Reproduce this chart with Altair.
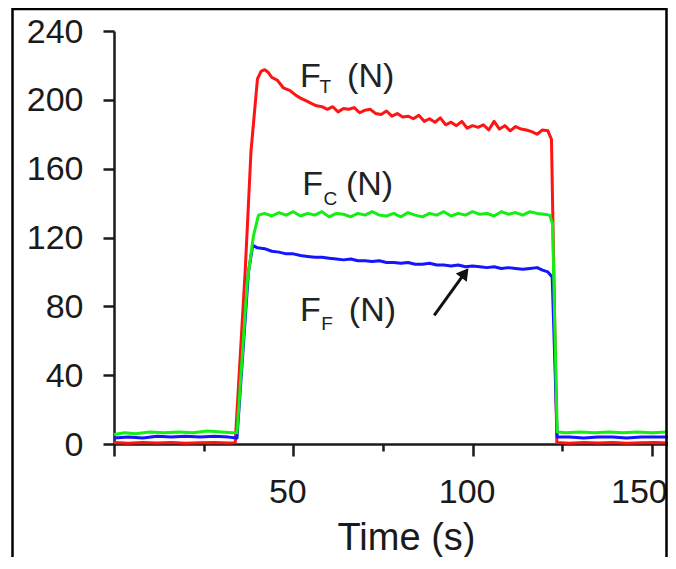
import altair as alt
import pandas as pd

# ---------------- data ----------------
red_t = [0, 4, 8, 12, 16, 20, 24, 28, 32, 33.8,
         36.6, 38.2, 40.0, 41.0, 42.0, 43.0, 44.0, 45.5, 47.2, 49, 50.5, 52, 53.5, 55, 56.5,
         58, 59.5, 61, 62.5, 64, 65.5, 67, 68.5, 70, 71.5, 73, 74.5, 76, 77.5, 79, 80.5,
         82, 83.5, 85, 86.5, 88, 89.5, 91, 92.5, 94, 95.5, 97, 98.5, 100, 101.5, 103,
         104.5, 106, 107.5, 109, 110.5, 112, 113.5, 115, 116.5, 118, 119.5, 121,
         122.0, 123.5, 127, 131, 135, 139, 143, 147, 151, 154.5]
red_f = [0.8, 0.5, 0.9, 0.6, 0.8, 0.5, 0.7, 0.9, 0.6, 0.8,
         101, 170, 212, 216.5, 217.5, 216, 213, 211.5, 207, 205.5, 203, 201, 199.5, 198, 196.5,
         196, 194.5, 196, 193, 195, 194.5, 195.5, 192.5, 194, 194.5, 192, 191.5, 193.5, 190.5,
         192, 190, 190.5, 189, 191, 187.5, 189, 187, 189.5, 185.5, 187, 185, 187.5, 183.5,
         185, 184, 185.5, 182.5, 187.5, 183, 185, 182, 184.5, 183, 182.5, 181.5, 180, 182.5, 182,
         177, 0.8, 0.5, 0.9, 0.6, 0.8, 0.5, 0.7, 0.9, 0.6]

green_t = [0, 3, 6, 10, 14, 18, 22, 26, 30, 33, 34.3,
           37.2, 38.9, 40.3, 42, 44, 46, 48, 50, 52, 54, 56, 58, 60, 62, 64, 66, 68, 70,
           72, 74, 76, 78, 80, 82, 84, 86, 88, 90, 92, 94, 96, 98, 100, 102, 104, 106,
           108, 110, 112, 114, 116, 118, 120, 121.5,
           122.3, 123.6, 126, 130, 134, 138, 142, 146, 150, 154.5]
green_f = [5.5, 6.5, 6, 7, 6.5, 7, 6.5, 7.5, 7, 6.5, 6.5,
           95, 121, 133, 134, 132.5, 134.5, 133, 135, 132.5, 134, 133, 135, 132, 134, 133.5,
           132, 134, 133, 135, 133, 132.5, 134, 132, 134.5, 133, 132, 134, 133, 135, 132.5,
           134, 133, 135, 133.5, 134, 132.5, 135, 133.5, 134.5, 133, 135, 134, 133.5, 133,
           128, 7, 6.5, 7, 6.5, 7, 6.5, 7, 6.5, 7]

blue_t = [0, 4, 8, 12, 16, 20, 24, 28, 32, 34.3,
          37.5, 38.7, 40, 42, 44, 46, 48, 50, 52, 54, 56, 58, 60, 62, 64, 66, 68, 70, 72,
          74, 76, 78, 80, 82, 84, 86, 88, 90, 92, 94, 96, 98, 100, 102, 104, 106, 108,
          110, 112, 114, 116, 118, 119.5, 121,
          122.2, 123.6, 127, 131, 135, 139, 143, 147, 151, 154.5]
blue_f = [3.5, 4, 3.5, 4.5, 4, 4.5, 4, 4.5, 4, 3.5,
          100, 115.5, 114, 113.5, 112, 111.5, 110.5, 110.5, 109.5, 109, 108.5, 108.5, 108,
          107.5, 107, 107.5, 106.5, 106.5, 106, 106.5, 105.5, 105.5, 105, 105.5, 104.5,
          104.5, 105, 104, 104, 103.5, 104, 103, 103.5, 103, 102.5, 103, 102, 102.5, 102,
          101.5, 102, 102.5, 101, 100,
          97, 4, 4, 3.5, 4, 4, 3.5, 4, 4, 4]

# annotation labels: main letter, subscript, unit
lab_main = ["F", "F", "F"]
lab_sub = ["T", "C", "F"]
lab_unit = ["(N)", "(N)", "(N)"]
lab_main_t = [51.9, 52.5, 51.9]
lab_main_f = [207.3, 144.5, 71.2]
lab_sub_t = [57.3, 58.4, 57.8]
lab_sub_f = [203.8, 138.7, 66.0]
lab_unit_t = [65.0, 64.7, 65.5]

# arrow pointing at the F_F curve
arrow_tail = (89.3, 74.7)
arrow_head = (97.85, 99.4)

x_ticks = [0, 25, 50, 75, 100, 125, 150]
y_ticks = [0, 20, 40, 60, 80, 100, 120, 140, 160, 180, 200, 220, 240]

# ---------------- chart ----------------
FONT = "Liberation Sans"
INK = "#1a1a1a"

x_scale = alt.Scale(domain=[0, 154.5], nice=False, zero=False)
y_scale = alt.Scale(domain=[0, 240], nice=False)

x_axis = alt.Axis(
    values=x_ticks,
    labelExpr="datum.value % 50 === 0 && datum.value > 0 ? datum.label : ''",
    tickSize={"condition": {"test": "datum.value % 50 === 0", "value": 12}, "value": 7},
    title="Time (s)",
    titleFontSize=38, titleFont=FONT, titleFontWeight="normal", titleColor=INK,
    titleX=292, titleY=105, titleAlign="center", titleBaseline="alphabetic", titleAngle=0,
    labelFontSize=34, labelFont=FONT, labelColor=INK, labelPadding=19,
    labelOffset={"condition": {"test": "datum.value === 150", "value": -13}, "value": -6},
    labelOverlap=False, labelFlush=False, labelBound=False,
    grid=False, domainColor=INK, domainWidth=2.5, tickColor=INK, tickWidth=2.5,
)
y_axis = alt.Axis(
    values=y_ticks,
    labelExpr="datum.value % 40 === 0 ? datum.label : ''",
    tickSize={"condition": {"test": "datum.value % 40 === 0", "value": 11}, "value": 6},
    title=None,
    labelFontSize=34, labelFont=FONT, labelColor=INK, labelPadding=20,
    labelOffset=1, labelOverlap=False, labelFlush=False, labelBound=False,
    grid=False, domainColor=INK, domainWidth=2.5, tickColor=INK, tickWidth=2.5,
)


def series(ts, fs, color):
    df = pd.DataFrame({"t": ts, "f": fs, "i": range(len(ts))})
    return alt.Chart(df).mark_line(color=color, strokeWidth=3, strokeJoin="round").encode(
        x=alt.X("t:Q", scale=x_scale, axis=x_axis),
        y=alt.Y("f:Q", scale=y_scale, axis=y_axis),
        order="i:Q",
    )


red = series(red_t, red_f, "#ff1414")
blue = series(blue_t, blue_f, "#1414ff")
green = series(green_t, green_f, "#14ee14")

main_df = pd.DataFrame({"t": lab_main_t, "f": lab_main_f, "txt": lab_main})
sub_df = pd.DataFrame({"t": lab_sub_t, "f": lab_sub_f, "txt": lab_sub})
unit_df = pd.DataFrame({"t": lab_unit_t, "f": lab_main_f, "txt": lab_unit})


def text_layer(df, size):
    return alt.Chart(df).mark_text(
        font=FONT, fontSize=size, color="#222222", align="left", baseline="alphabetic"
    ).encode(
        x=alt.X("t:Q", scale=x_scale), y=alt.Y("f:Q", scale=y_scale), text="txt:N"
    )


labels = text_layer(main_df, 34) + text_layer(sub_df, 19) + text_layer(unit_df, 34)

arrow_df = pd.DataFrame({"t": [arrow_tail[0]], "f": [arrow_tail[1]],
                         "t2": [arrow_head[0]], "f2": [arrow_head[1]]})
arrow_line = alt.Chart(arrow_df).mark_rule(color="#111111", strokeWidth=3).encode(
    x=alt.X("t:Q", scale=x_scale), y=alt.Y("f:Q", scale=y_scale), x2="t2:Q", y2="f2:Q"
)
arrow_tip = alt.Chart(arrow_df).mark_point(
    shape="triangle-up", filled=True, color="#111111", size=190, angle=37, opacity=1
).encode(x=alt.X("t2:Q", scale=x_scale), y=alt.Y("f2:Q", scale=y_scale))

frame = alt.Chart(pd.DataFrame({"k": [0]})).mark_rect(
    fillOpacity=0, stroke="#000000", strokeWidth=2.5
).encode(
    x=alt.value(-101.5), x2=alt.value(552.5), y=alt.value(-22), y2=alt.value(600)
)

chart = alt.layer(red, blue, green, labels, arrow_line, arrow_tip, frame).properties(
    width=554, height=413,
    autosize=alt.AutoSizeParams(type="none"),
    padding={"left": 106, "top": 23, "right": 0, "bottom": 113},
    background="white",
).configure_view(stroke=None)

chart.save("out.html", embed_options={"renderer": "svg", "actions": False})
